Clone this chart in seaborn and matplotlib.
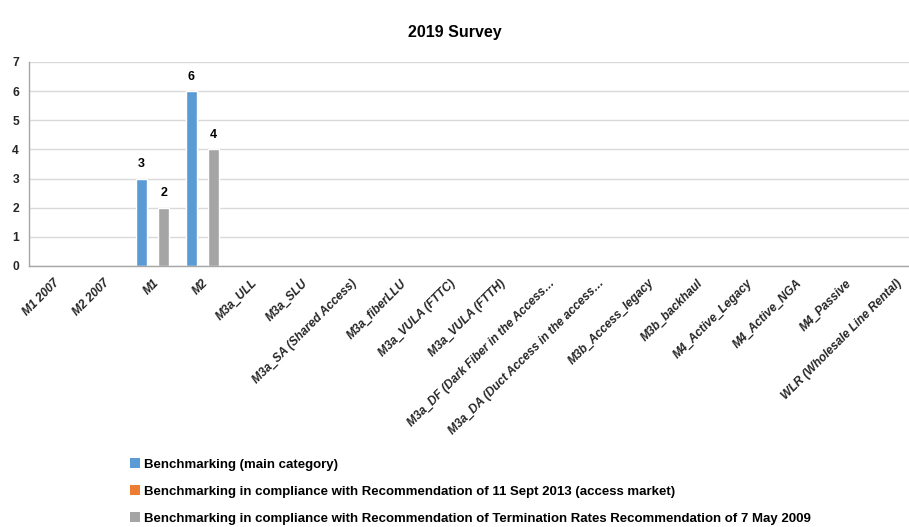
import matplotlib
matplotlib.use("Agg")
import matplotlib.pyplot as plt
import seaborn as sns
import pandas as pd
from matplotlib.patches import Patch

categories = [
    "M1 2007", "M2 2007", "M1", "M2", "M3a_ULL", "M3a_SLU",
    "M3a_SA (Shared Access)", "M3a_fiberLLU", "M3a_VULA (FTTC)", "M3a_VULA (FTTH)",
    "M3a_DF (Dark Fiber in the Access…", "M3a_DA (Duct Access in the access…",
    "M3b_Access_legacy", "M3b_backhaul", "M4_Active_Legacy", "M4_Active_NGA",
    "M4_Passive", "WLR (Wholesale Line Rental)",
]
series_names = [
    "Benchmarking (main category)",
    "Benchmarking in compliance with Recommendation of 11 Sept 2013 (access market)",
    "Benchmarking in compliance with Recommendation of Termination Rates Recommendation of 7 May 2009",
]
main_values = [0, 0, 3, 6, 0, 0, 0, 0, 0, 0, 0, 0, 0, 0, 0, 0, 0, 0]
access_values = [0] * 18
termination_values = [0, 0, 2, 4, 0, 0, 0, 0, 0, 0, 0, 0, 0, 0, 0, 0, 0, 0]
colors = ["#5B9BD5", "#ED7D31", "#A5A5A5"]

df = pd.DataFrame({
    "category": categories * 3,
    "series": [series_names[0]] * 18 + [series_names[1]] * 18 + [series_names[2]] * 18,
    "value": main_values + access_values + termination_values,
})

sns.set_theme(style="white")
plt.rcParams["font.family"] = ["Liberation Sans", "DejaVu Sans"]
plt.rcParams["text.color"] = "#000000"

fig = plt.figure(figsize=(9.09, 5.27), dpi=100)
ax = fig.add_axes([29 / 909, 1 - 266 / 527, 891 / 909, 204 / 527])

sns.barplot(data=df, x="category", y="value", hue="series", palette=colors,
            width=0.67, gap=0, order=categories, hue_order=series_names,
            legend=False, ax=ax, saturation=1)

for container in ax.containers:
    labels = [f"{int(v)}" if v else "" for v in container.datavalues]
    ax.bar_label(container, labels=labels, padding=6, fontsize=9, fontweight="bold")

ax.set_ylim(0, 7)
ax.set_xlim(-0.5, len(categories) - 0.5)
ax.set_yticks(range(0, 8))
ax.yaxis.grid(True, color="#D9D9D9", linewidth=1)
ax.set_axisbelow(True)
ax.set_xlabel("")
ax.set_ylabel("")

for s in ["top", "right"]:
    ax.spines[s].set_visible(False)
for s in ["left", "bottom"]:
    ax.spines[s].set_color("#A6A6A6")
    ax.spines[s].set_linewidth(1)

# category boundary ticks
ax.set_xticks([i - 0.5 for i in range(len(categories) + 1)], minor=True)
ax.tick_params(axis="x", which="minor", length=5, color="#A6A6A6", width=1)
ax.tick_params(axis="x", which="major", length=0, pad=8)
ax.set_xticks(range(len(categories)))
ax.set_xticklabels(categories, rotation=45, ha="right", rotation_mode="anchor",
                   fontsize=8.6, fontweight="bold", fontstyle="italic")
ax.tick_params(axis="y", length=0, labelsize=8.7, pad=12)
for t in ax.get_yticklabels():
    t.set_fontweight("bold")
    t.set_horizontalalignment("left")

fig.suptitle("2019 Survey", x=0.5, y=0.953, fontsize=11.5, fontweight="bold")

handles = [Patch(facecolor=c, edgecolor="none") for c in colors]
fig.legend(handles, series_names, loc="upper left", bbox_to_anchor=(130 / 909, 1 - 458 / 527),
           frameon=False, ncol=1, prop={"size": 9.5, "weight": "bold"},
           handlelength=0.78, handleheight=0.78, handletextpad=0.25, labelspacing=1.1,
           borderaxespad=0, borderpad=0)

fig.savefig("out.png", dpi=100)
